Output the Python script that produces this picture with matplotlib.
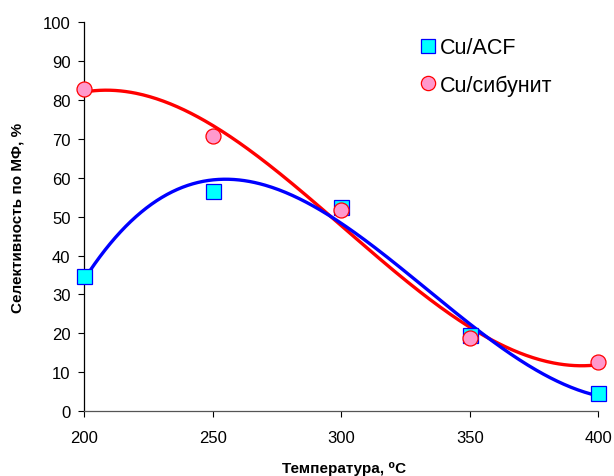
import numpy as np
import matplotlib.pyplot as plt

plt.rcParams['font.family'] = ['Liberation Sans', 'DejaVu Sans']

temp = [200, 250, 300, 350, 400]
cu_acf = [34.7, 56.6, 52.6, 19.5, 4.6]
cu_sib = [82.8, 70.7, 51.8, 18.8, 12.6]

fig = plt.figure(figsize=(6.14, 4.77), dpi=100)
ax = fig.add_axes([0.1376, 0.1363, 0.837, 0.8145])

# Excel-style 3rd order polynomial trendlines
xs = np.linspace(200, 400, 300)
p_acf = np.polyfit(temp, cu_acf, 3)
p_sib = np.polyfit(temp, cu_sib, 3)
ax.plot(xs, np.polyval(p_sib, xs), color='#ff0000', lw=2.4, zorder=2)
ax.plot(xs, np.polyval(p_acf, xs), color='#0000ff', lw=2.4, zorder=2)

ax.plot(temp, cu_acf, 's', ms=10.8, mfc='#00ffff', mec='#0000ff', mew=0.9,
        ls='none', label='Cu/ACF', zorder=3, clip_on=False)
ax.plot(temp, cu_sib, 'o', ms=10.8, mfc='#ff99cc', mec='#ff0000', mew=0.9,
        ls='none', label='Cu/сибунит', zorder=3, clip_on=False)

ax.set_xlim(200, 400)
ax.set_ylim(0, 100)
ax.set_xticks([200, 250, 300, 350, 400])
ax.set_yticks(range(0, 101, 10))
ax.tick_params(direction='out', length=4, width=0.8, labelsize=12, colors='#000000')
ax.tick_params(axis='x', pad=10)
ax.tick_params(axis='y', pad=6)
for s in ['top', 'right']:
    ax.spines[s].set_visible(False)
ax.spines['left'].set_linewidth(0.9)
ax.spines['bottom'].set_linewidth(0.9)
ax.spines['bottom'].set_color('#555555')

ax.set_xlabel('Температура, ⁰C', fontsize=11, fontweight='bold')
ax.set_ylabel('Селективность по МФ, %', fontsize=11, fontweight='bold')
ax.xaxis.set_label_coords(0.505, -0.128)
ax.yaxis.set_label_coords(-0.116, 0.5)

ax.legend(loc='upper left', bbox_to_anchor=(0.6225, 0.995), frameon=False,
          fontsize=15.5, handletextpad=0.05, labelspacing=0.75, handlelength=1.0,
          borderaxespad=0.2, markerscale=0.95)

fig.savefig('out.png', dpi=100)
